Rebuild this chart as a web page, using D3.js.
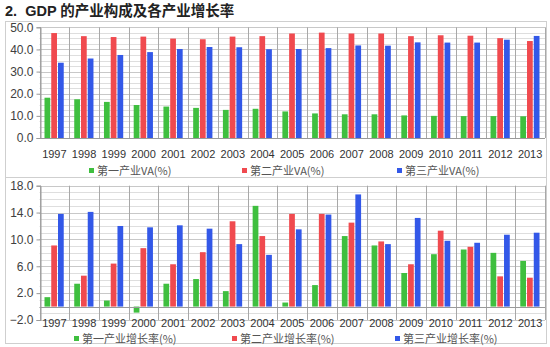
<!DOCTYPE html>
<html><head><meta charset="utf-8">
<script src="https://cdn.jsdelivr.net/npm/d3@7"></script>
<style>
html,body{margin:0;padding:0;background:#fff;}
svg{display:block;}
</style></head>
<body><svg id="c" width="550" height="347"></svg>
<script>
const years = ["1997","1998","1999","2000","2001","2002","2003","2004","2005","2006","2007","2008","2009","2010","2011","2012","2013"];
// Top chart: value added share (%)
const vaPrimary   = [18.2,17.5,16.3,14.9,14.2,13.6,12.7,13.2,12.0,11.1,10.7,10.7,10.2,10.0,9.9,9.9,9.8];
const vaSecondary = [47.4,46.0,45.6,45.8,44.9,44.6,45.8,46.0,47.2,47.6,47.2,47.2,46.0,46.4,46.2,45.1,43.8];
const vaTertiary  = [34.0,35.9,37.5,38.8,40.2,41.1,41.0,40.1,40.2,40.6,41.8,41.7,43.2,43.1,43.1,44.4,46.1];
// Bottom chart: growth rate (%)
const grPrimary   = [1.4,3.4,0.9,-0.9,3.4,4.1,2.3,15.0,0.6,3.2,10.5,9.1,5.0,7.8,8.5,8.0,6.8];
const grSecondary = [9.1,4.6,6.4,8.7,6.3,8.1,12.7,10.5,13.8,13.8,12.5,9.7,6.3,11.3,8.9,4.5,4.3];
const grTertiary  = [13.8,14.1,12.0,11.8,12.1,11.6,9.3,7.7,11.5,13.7,16.7,9.3,13.2,9.8,9.5,10.7,11.0];

const topTicks = [0,10,20,30,40,50];
const botTicks = [-2,2,6,10,14,18];
const legendTop = ["第一产业VA(%)","第二产业VA(%)","第三产业VA(%)"];
const legendBot = ["第一产业增长率(%)","第二产业增长率(%)","第三产业增长率(%)"];
const colors = ["#3fbf3f","#f04a4f","#3358e8"];

const svg = d3.select("#c");
const FONT = "'Liberation Sans', Arial, sans-serif";
const CJK = "'Noto Sans CJK SC', sans-serif";

svg.append("text").attr("x",5).attr("y",16)
  .attr("font-family","'Liberation Sans','Noto Sans CJK SC',sans-serif")
  .attr("font-weight","bold").attr("font-size",14.5).attr("fill","#222")
  .style("white-space","pre")
  .text("2.  GDP 的产业构成及各产业增长率");

// panel boxes
svg.append("rect").attr("x",5.5).attr("y",21.5).attr("width",541).attr("height",156)
  .attr("fill","none").attr("stroke","#cfcfcf");
svg.append("rect").attr("x",5.5).attr("y",177.5).attr("width",541).attr("height",166)
  .attr("fill","none").attr("stroke","#cfcfcf");

function drawChart(cfg){
  const g = svg.append("g");
  const x0 = d3.scaleBand().domain(years).range([cfg.left, cfg.right]).padding(0);
  const x1 = d3.scaleBand().domain([0,1,2]).range([5, x0.bandwidth()-5.5]).paddingInner(0.15).paddingOuter(0);
  const y = d3.scaleLinear().domain(cfg.domain).range([cfg.bottom, cfg.top]);

  // minor grid
  const minor = d3.range(cfg.domain[0], cfg.domain[1]+1e-9, cfg.minor);
  g.selectAll(".mn").data(minor).enter().append("line")
    .attr("x1",cfg.left).attr("x2",cfg.right)
    .attr("y1",d=>Math.round(y(d))+0.5).attr("y2",d=>Math.round(y(d))+0.5)
    .attr("stroke","#dedede").attr("stroke-width",1);
  // major grid
  g.selectAll(".mj").data(cfg.ticks).enter().append("line")
    .attr("x1",cfg.left).attr("x2",cfg.right)
    .attr("y1",d=>Math.round(y(d))+0.5).attr("y2",d=>Math.round(y(d))+0.5)
    .attr("stroke","#c8c8c8").attr("stroke-width",1);
  // vertical category separators
  const seps = years.map(d=>x0(d)).concat([cfg.right]);
  g.selectAll(".vs").data(seps).enter().append("line")
    .attr("x1",d=>Math.round(d)+0.5).attr("x2",d=>Math.round(d)+0.5)
    .attr("y1",cfg.top).attr("y2",cfg.bottom)
    .attr("stroke","#a8a8a8").attr("stroke-width",1);

  // bars
  cfg.series.forEach((s,i)=>{
    g.selectAll(".b"+i).data(s).enter().append("rect")
      .attr("x",(d,j)=>x0(years[j])+x1(i))
      .attr("width",x1.bandwidth())
      .attr("y",d=>y(Math.max(0,d)))
      .attr("height",d=>Math.abs(y(d)-y(0)))
      .attr("fill",colors[i]);
  });

  // y axis
  const ya = d3.axisLeft(y).tickValues(cfg.ticks).tickFormat(d3.format(".1f")).tickSize(4).tickPadding(3);
  const yg = g.append("g").attr("transform",`translate(${Math.round(cfg.left)+0.5},0)`).call(ya);
  yg.select(".domain").attr("stroke","#9a9a9a");
  yg.selectAll(".tick line").attr("stroke","#9a9a9a");
  yg.selectAll("text").attr("font-family",FONT).attr("font-size",12).attr("fill","#404040");

  // zero axis line
  g.append("line").attr("x1",cfg.left).attr("x2",cfg.right)
    .attr("y1",Math.round(y(0))+0.5).attr("y2",Math.round(y(0))+0.5)
    .attr("stroke","#9a9a9a");

  // x labels
  g.selectAll(".xl").data(years).enter().append("text")
    .attr("x",d=>x0(d)+x0.bandwidth()/2).attr("y",cfg.labelY)
    .attr("text-anchor","middle").attr("font-family",FONT).attr("font-size",11)
    .attr("fill","#333").text(d=>d);

  // legend
  cfg.legend.forEach((t,i)=>{
    g.append("rect").attr("x",cfg.legX[i]).attr("y",cfg.legY-7).attr("width",5).attr("height",5).attr("fill",colors[i]);
    g.append("text").attr("x",cfg.legX[i]+8).attr("y",cfg.legY)
      .attr("font-family",CJK).attr("font-size",11).attr("fill","#555").text(t);
  });
}

drawChart({left:39.5,right:545,top:27.3,bottom:138,domain:[0,50],ticks:topTicks,minor:2.5,
  series:[vaPrimary,vaSecondary,vaTertiary],labelY:158,legend:legendTop,legY:175,legX:[89,242,397]});
drawChart({left:39.5,right:545,top:185.7,bottom:320,domain:[-2,18],ticks:botTicks,minor:1,
  series:[grPrimary,grSecondary,grTertiary],labelY:327,legend:legendBot,legY:343,legX:[74,232,395]});
</script></body></html>
